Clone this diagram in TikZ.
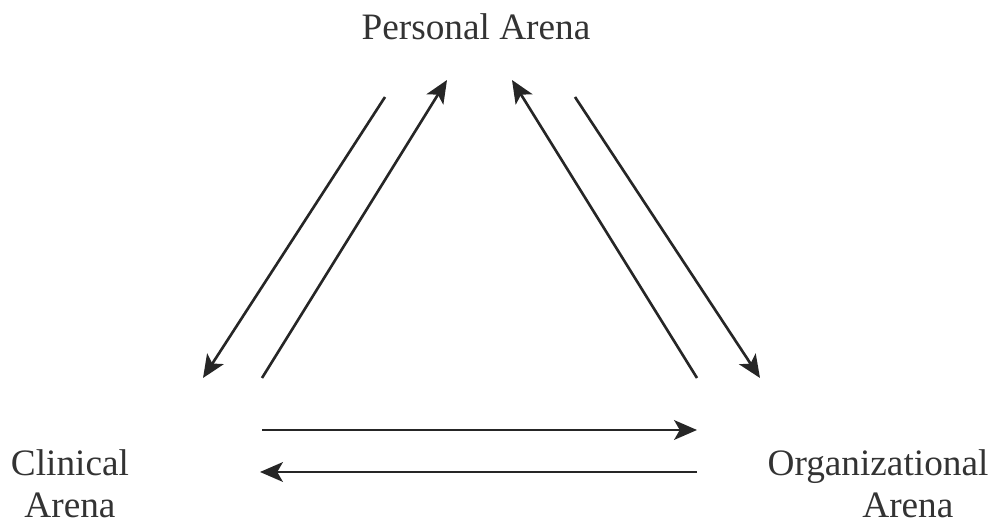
\documentclass[tikz,border=0pt]{standalone}
\usepackage{fontspec}
\setmainfont{Liberation Serif}
\usepackage{tikz}
\usetikzlibrary{arrows.meta}

\begin{document}
\begin{tikzpicture}[x=0.01cm, y=-0.01cm, >={Stealth[length=6.5pt,width=5.6pt,inset=1.6pt]},
    arena/.style={align=center, font=\fontsize{10.6}{12}\selectfont, text=black!80, inner sep=0pt},
    link/.style={->, line width=0.75pt, black!85}]
                \useasboundingbox (0,0) rectangle (1000,525);

                % the three arenas
                \node[arena] (personal) at (476,27) {Personal Arena};
                \node[arena] (clinical) at (70,484) {Clinical\\Arena};
                \node[arena] (organizational) at (878,484) {Organizational\\\hspace*{17pt}Arena};

                % ends of the arrows
                \coordinate (P1) at (385,97);
                \coordinate (P2) at (447,80);
                \coordinate (P3) at (512,80);
                \coordinate (P4) at (575,97);
                \coordinate (C1) at (203,378);
                \coordinate (C2) at (262,378);
                \coordinate (C3) at (262,430);
                \coordinate (C4) at (260,472);
                \coordinate (O1) at (697,378);
                \coordinate (O2) at (760,378);
                \coordinate (O3) at (697,430);
                \coordinate (O4) at (697,472);

                \draw[link] (P1) -- (C1);
                \draw[link] (C2) -- (P2);
                \draw[link] (O1) -- (P3);
                \draw[link] (P4) -- (O2);
                \draw[link] (C3) -- (O3);
                \draw[link] (O4) -- (C4);
            \end{tikzpicture}
\end{document}
